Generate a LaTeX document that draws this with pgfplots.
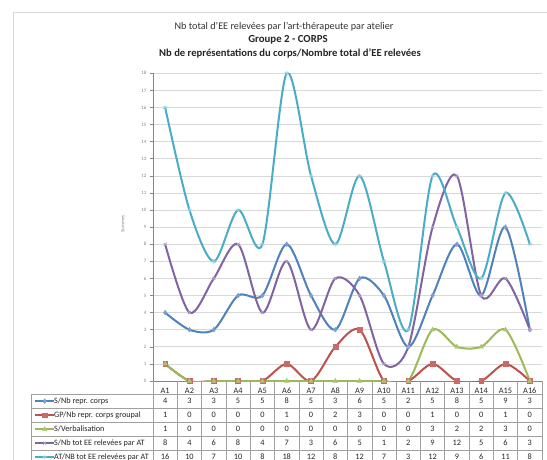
\documentclass[border=0pt]{standalone}
\usepackage{fontspec}
\setmainfont{Carlito}
\usepackage{pgfplots}
\usepackage{pgfplotstable}
\pgfplotsset{compat=1.18}
\definecolor{sblue}{HTML}{4F81BD}
\definecolor{sred}{HTML}{C0504D}
\definecolor{sgreen}{HTML}{9BBB59}
\definecolor{spurple}{HTML}{8064A2}
\definecolor{scyan}{HTML}{4BACC6}
\definecolor{gridc}{HTML}{D9D9D9}
\definecolor{axc}{HTML}{868686}
\definecolor{tabc}{HTML}{A0A0A0}

\pgfplotstableread{
x c s gp v tot at
1 A1 4 1 1 8 16
2 A2 3 0 0 4 10
3 A3 3 0 0 6 7
4 A4 5 0 0 8 10
5 A5 5 0 0 4 8
6 A6 8 1 0 7 18
7 A7 5 0 0 3 12
8 A8 3 2 0 6 8
9 A9 6 3 0 5 12
10 A10 5 0 0 1 7
11 A11 2 0 0 2 3
12 A12 5 1 3 9 12
13 A13 8 0 2 12 9
14 A14 5 0 2 5 6
15 A15 9 1 3 6 11
16 A16 3 0 0 3 8
}\datatable

\begin{document}
\begin{tikzpicture}[x=1pt,y=1pt]
\clip (0,0) rectangle (547,459);
\fill[white] (0,0) rectangle (547,459);
\draw[gridc, line width=0.8pt] (13,-10) -- (13,447) -- (560,447);
\node[font=\fontsize{10.2}{11}\selectfont, text=black!80] at (284,432) {Nb total d'EE relevées par l'art-thérapeute par atelier};
\node[font=\bfseries\fontsize{10.8}{12}\selectfont, text=black!85] at (288,419) {Groupe 2 - CORPS};
\node[font=\bfseries\fontsize{10.6}{12}\selectfont, text=black!85] at (290,405.5) {Nb de représentations du corps/Nombre total d'EE relevées};

\begin{axis}[
  at={(153pt,78pt)}, anchor=south west,
  scale only axis, width=389pt, height=307.7pt,
  xmin=0.5, xmax=16.5, ymin=0, ymax=18,
  ytick={0,...,18},
  xtick={1,...,16},
  xticklabels from table={\datatable}{c},
  xtick style={draw=none},
  xticklabel style={font=\fontsize{8.3}{9}\selectfont, text=black!85, anchor=center, yshift=-6.5pt},
  ytick style={axc, line width=0.6pt},
  tick align=outside,
  major tick length=3pt,
  yticklabel style={font=\fontsize{5}{6}\selectfont, text=axc},
  /pgf/number format/assume math mode=true,
  ymajorgrids,
  grid style={gridc, line width=0.7pt},
  axis x line*=bottom, axis y line*=left,
  axis line style={axc, line width=0.8pt},
  ylabel={Sommes},
  ylabel style={font=\fontsize{5}{6}\selectfont, text=axc, at={(axis description cs:-0.078,0.51)}, anchor=center},
  legend image code/.code={\draw[mark repeat=2, mark phase=2, #1] plot coordinates {(0pt,0pt) (9.5pt,0pt) (19pt,0pt)};},
  legend style={at={(rel axis cs:-0.3085,-0.0423)}, anchor=north west, draw=none, fill=none,
    inner xsep=1pt, inner ysep=0pt, row sep=0pt,
    nodes={inner sep=0pt, minimum height=14pt, font=\fontsize{8.2}{9}\selectfont, text=black!85},
    column sep=-1pt},
  legend cell align=left,
  every axis plot/.append style={line width=2pt, smooth, tension=0.5},
]
\addplot[sblue, mark=diamond*, mark size=2.4pt, mark options={solid, line width=0.4pt, fill=sblue!75!white, draw=sblue!75!white}] table[x=x,y=s]{\datatable};
\addlegendentry{S/Nb repr. corps}
\addplot[sred, mark=square*, mark size=2.4pt, mark options={solid, line width=0.4pt, fill=sred!85!white, draw=sred!85!white}] table[x=x,y=gp]{\datatable};
\addlegendentry{GP/Nb repr. corps groupal}
\addplot[sgreen, mark=triangle*, mark size=2.6pt, mark options={solid, line width=0.4pt, fill=sgreen!85!white, draw=sgreen!85!white}] table[x=x,y=v]{\datatable};
\addlegendentry{S/Verbalisation}
\addplot[spurple, mark=x, mark size=2.2pt, mark options={solid, line width=0.6pt, draw=spurple!60!white}] table[x=x,y=tot]{\datatable};
\addlegendentry{S/Nb tot EE relevées par AT}
\addplot[scyan, mark=asterisk, mark size=2.2pt, mark options={solid, line width=0.6pt, draw=scyan!60!white}] table[x=x,y=at]{\datatable};
\addlegendentry{AT/NB tot EE relevées par AT}
\end{axis}

\begin{scope}[tabc, line width=0.6pt]
  \foreach \yy in {65,51,37,23,9} \draw (31,\yy) -- (542,\yy);
  \draw (31,65) -- (31,-10);
  \foreach \k in {0,...,16} \draw (153+24.3125*\k,78) -- (153+24.3125*\k,-10);
\end{scope}

\foreach \col/\yy in {s/58,gp/44,v/30,tot/16,at/2} {
  \foreach \i in {0,...,15} {
    \pgfplotstablegetelem{\i}{\col}\of\datatable
    \node[font=\fontsize{8.3}{9}\selectfont, text=black!85, inner sep=0pt] at (165.156+24.3125*\i,\yy) {\pgfplotsretval};
  }
}
\end{tikzpicture}
\end{document}
